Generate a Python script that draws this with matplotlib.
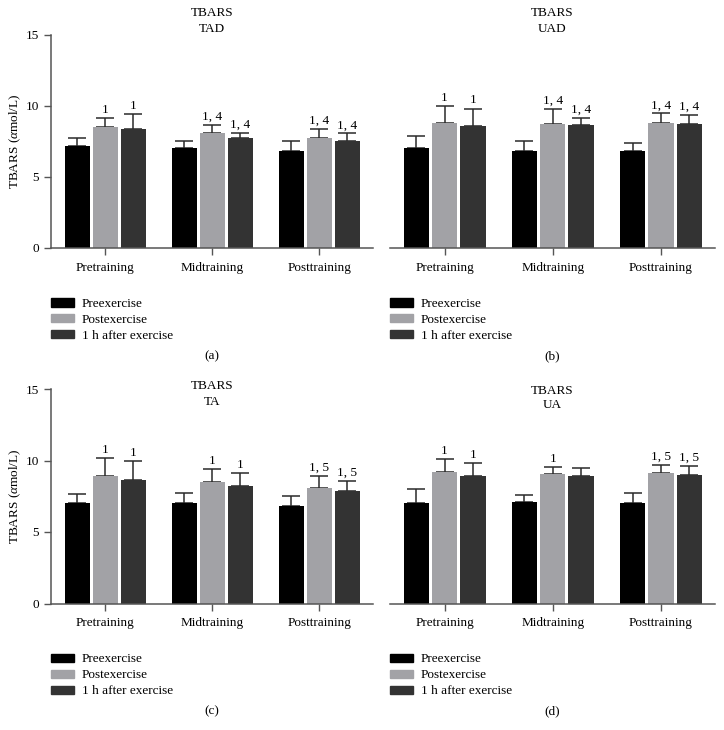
import matplotlib
matplotlib.use("Agg")
import matplotlib.pyplot as plt
import matplotlib.patches as mpatches
import numpy as np

plt.rcParams['font.family'] = ['Liberation Serif', 'DejaVu Serif']
plt.rcParams['mathtext.fontset'] = 'custom'
plt.rcParams['mathtext.rm'] = 'Liberation Serif'
plt.rcParams['mathtext.it'] = 'Liberation Serif:italic'

groups = ["Pretraining", "Midtraining", "Posttraining"]
series = ["Preexercise", "Postexercise", "1 h after exercise"]
colors = ["#000000", "#a2a2a6", "#333333"]

# means per group: [pre, post, 1h]
tad_mean = [[7.2, 8.5, 8.35], [7.05, 8.05, 7.7], [6.8, 7.7, 7.5]]
tad_err = [[0.5, 0.65, 1.05], [0.5, 0.6, 0.38], [0.7, 0.65, 0.55]]
tad_notes = [["", "1", "1"], ["", "1, 4", "1, 4"], ["", "1, 4", "1, 4"]]

uad_mean = [[7.0, 8.75, 8.6], [6.8, 8.7, 8.62], [6.8, 8.75, 8.7]]
uad_err = [[0.9, 1.2, 1.2], [0.7, 1.1, 0.5], [0.6, 0.7, 0.65]]
uad_notes = [["", "1", "1"], ["", "1, 4", "1, 4"], ["", "1, 4", "1, 4"]]

ta_mean = [[7.0, 8.95, 8.65], [7.0, 8.5, 8.2], [6.85, 8.1, 7.85]]
ta_err = [[0.65, 1.2, 1.3], [0.75, 0.9, 0.9], [0.7, 0.8, 0.75]]
ta_notes = [["", "1", "1"], ["", "1", "1"], ["", "1, 5", "1, 5"]]

ua_mean = [[7.0, 9.2, 8.95], [7.1, 9.05, 8.95], [7.0, 9.1, 9.0]]
ua_err = [[1.0, 0.9, 0.9], [0.5, 0.5, 0.55], [0.7, 0.6, 0.6]]
ua_notes = [["", "1", "1"], ["", "1", ""], ["", "1, 5", "1, 5"]]

panels = [
    ("TAD", tad_mean, tad_err, tad_notes, "(a)"),
    ("UAD", uad_mean, uad_err, uad_notes, "(b)"),
    ("TA", ta_mean, ta_err, ta_notes, "(c)"),
    ("UA", ua_mean, ua_err, ua_notes, "(d)"),
]

W, H = 724, 730
fig = plt.figure(figsize=(W / 100, H / 100), dpi=100)

# axes boxes in pixels: left, right, top, bottom
boxes = [
    (51, 373, 34.5, 248),
    (390, 715, 34.5, 248),
    (51, 373, 389, 603.5),
    (390, 715, 389, 603.5),
]
title_y = [(13, 29), (13, 29), (386, 402), (391, 405)]
fs = 9.5
width = 0.234
pitch = 0.262
x = np.arange(len(groups))

for i, (name, mean, err, notes, tag) in enumerate(panels):
    l, r, t, b = boxes[i]
    ax = fig.add_axes([l / W, 1 - b / H, (r - l) / W, (b - t) / H])
    mean = np.array(mean)
    err = np.array(err)
    for j in range(len(series)):
        xs = x + (j - 1) * pitch
        ax.bar(xs, mean[:, j], width, color=colors[j], zorder=2)
        ax.errorbar(xs, mean[:, j], yerr=[np.zeros(3), err[:, j]], fmt='none',
                    ecolor='#2a2a2a', elinewidth=1.1, capsize=6.5, capthick=1.1, zorder=1)
        for k in range(len(groups)):
            if notes[k][j]:
                ax.annotate(notes[k][j], (xs[k], mean[k, j] + err[k, j]),
                            xytext=(0, 1.5), textcoords='offset points',
                            ha='center', va='bottom', fontsize=fs)
    ax.set_xlim(-0.505, 2.5)
    ax.set_ylim(0, 15)
    ax.set_xticks(x)
    ax.set_xticklabels(groups, fontsize=fs)
    ax.tick_params(axis='x', length=5, width=1, color='#555555', pad=5)
    for s in ['top', 'right']:
        ax.spines[s].set_visible(False)
    ax.spines['bottom'].set_color('#555555')
    ax.spines['bottom'].set_linewidth(1.1)
    if i % 2 == 0:
        ax.set_yticks([0, 5, 10, 15])
        ax.tick_params(axis='y', labelsize=fs, length=5, width=1, color='#555555')
        ax.spines['left'].set_color('#555555')
        ax.spines['left'].set_linewidth(1.1)
        ax.set_ylabel(r'TBARS ($\alpha$mol/L)', fontsize=fs)
        ax.yaxis.set_label_coords((23 - l) / (r - l), 0.5)
    else:
        ax.spines['left'].set_visible(False)
        ax.set_yticks([])

    cx = (l + r) / 2
    fig.text(cx / W, 1 - title_y[i][0] / H, "TBARS", ha='center', va='center', fontsize=fs)
    fig.text(cx / W, 1 - title_y[i][1] / H, name, ha='center', va='center', fontsize=fs)

    # legend under each panel
    handles = [mpatches.Patch(color=c, label=s) for c, s in zip(colors, series)]
    leg_top = b + 50
    fig.legend(handles=handles, loc='upper left',
               bbox_to_anchor=(l / W, 1 - leg_top / H),
               bbox_transform=fig.transFigure, frameon=False, fontsize=fs,
               handlelength=1.75, handleheight=0.6, handletextpad=0.6,
               labelspacing=0.3, borderaxespad=0, borderpad=0)

    fig.text(cx / W, 1 - (b + 108) / H, tag, ha='center', va='center', fontsize=fs)

fig.savefig("out.png", dpi=100)
